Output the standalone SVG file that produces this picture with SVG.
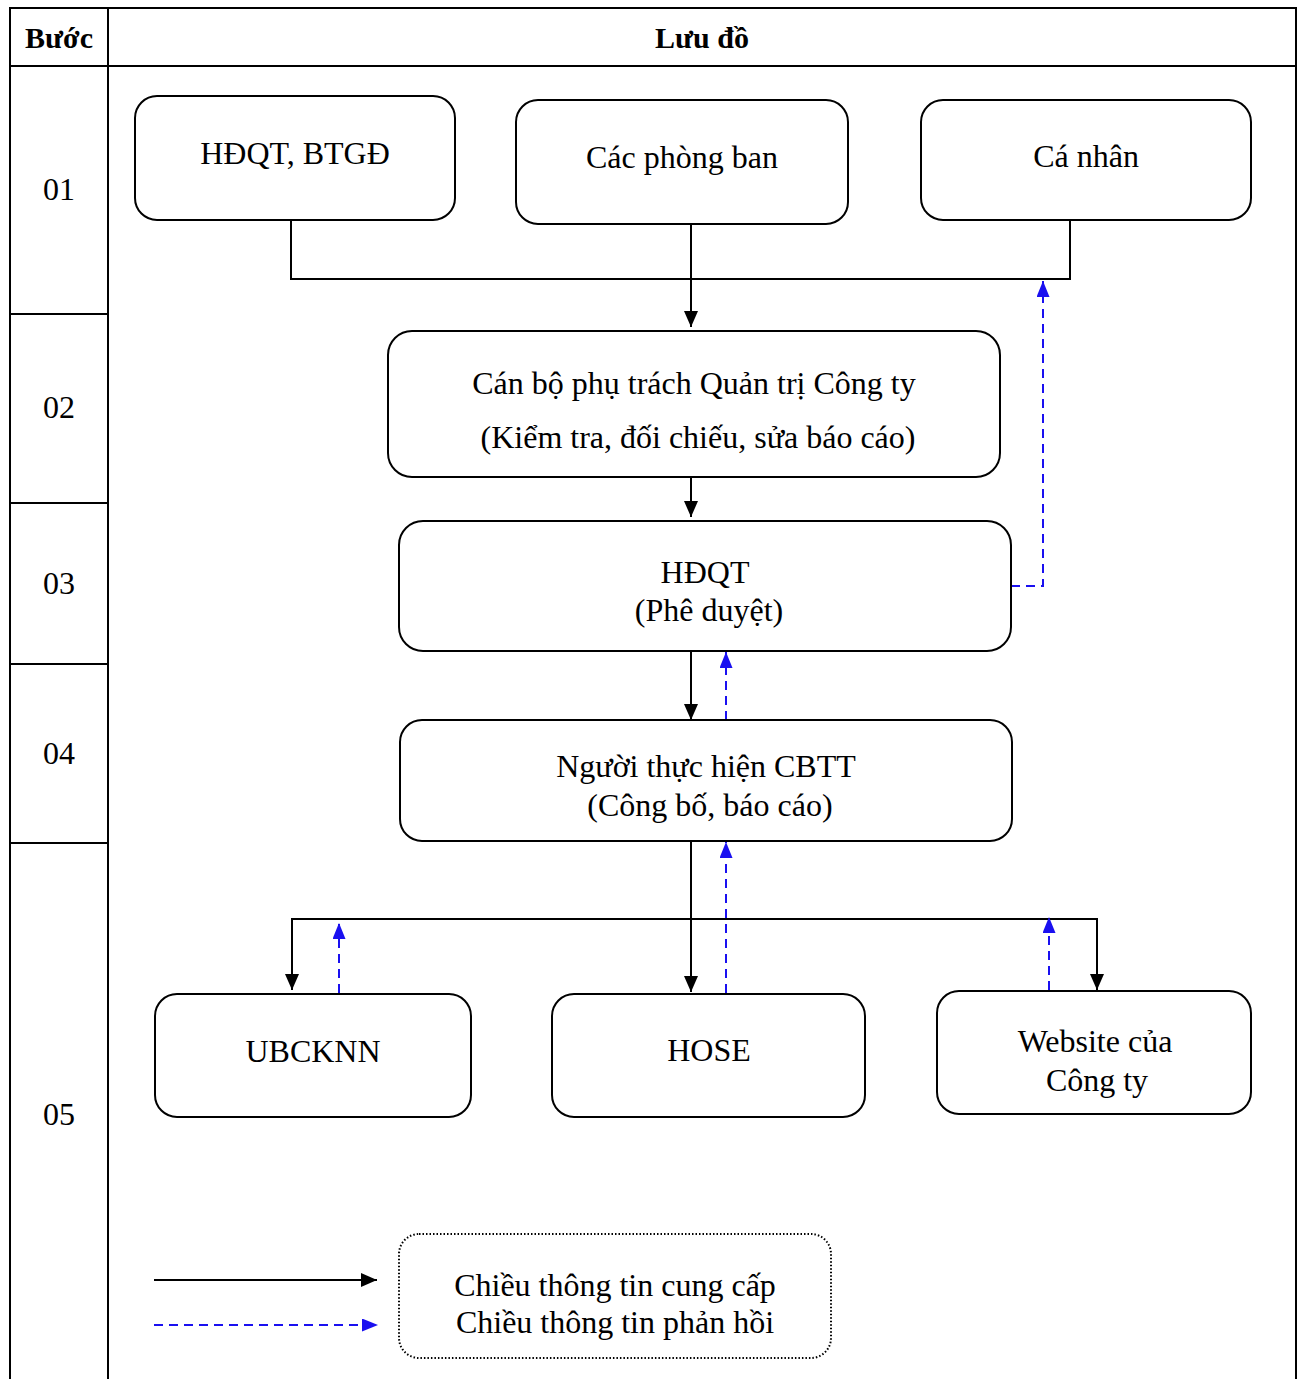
<svg xmlns="http://www.w3.org/2000/svg" width="1303" height="1379" viewBox="0 0 1303 1379">
<style>
  .t{font-family:"Liberation Serif","Times New Roman",serif;font-size:32px;fill:#000;text-anchor:middle}
  .h{font-weight:bold;font-size:30px}
  .box{fill:#fff;stroke:#000;stroke-width:2}
  .grid{stroke:#000;stroke-width:2;fill:none}
  .ln{stroke:#000;stroke-width:2;fill:none}
  .fb{stroke:#1a10f0;stroke-width:2;fill:none;stroke-dasharray:9 6}
</style>
<defs>
  <marker id="ab" viewBox="0 0 16 14" refX="16" refY="7" markerWidth="16" markerHeight="14" markerUnits="userSpaceOnUse" orient="auto">
    <path d="M0,0 L16,7 L0,14 Z" fill="#000"/>
  </marker>
  <marker id="au" viewBox="0 0 16 13" refX="16" refY="6.5" markerWidth="16" markerHeight="13" markerUnits="userSpaceOnUse" orient="auto">
    <path d="M0,0 L16,6.5 L0,13 Z" fill="#1a10f0"/>
  </marker>
</defs>
<rect width="1303" height="1379" fill="#fff"/>
<g id="table">
  <path class="grid" d="M10,1379 V8 H1296 V1379 M108,8 V1379 M10,66 H1296 M10,314 H108 M10,503 H108 M10,664 H108 M10,843 H108"/>
  <text class="t h" x="59" y="48">Bước</text>
  <text class="t h" x="702" y="48">Lưu đồ</text>
  <text class="t" x="59" y="200">01</text>
  <text class="t" x="59" y="418">02</text>
  <text class="t" x="59" y="594">03</text>
  <text class="t" x="59" y="764">04</text>
  <text class="t" x="59" y="1125">05</text>
</g>
<g id="connectors">
  <path class="ln" d="M291,220 V279 H1070 V220"/>
  <path class="ln" d="M691,224 V327" marker-end="url(#ab)"/>
  <path class="ln" d="M691,477 V517" marker-end="url(#ab)"/>
  <path class="fb" d="M1011,586 H1043 V281" marker-end="url(#au)"/>
  <path class="ln" d="M691,651 V720" marker-end="url(#ab)"/>
  <path class="fb" d="M726,720 V652" marker-end="url(#au)"/>
  <path class="ln" d="M691,841 V992" marker-end="url(#ab)"/>
  <path class="fb" d="M726,993 V842" marker-end="url(#au)"/>
  <path class="ln" d="M292,990 V919 H1097 V990" />
  <path class="ln" d="M292,960 V990" marker-end="url(#ab)"/>
  <path class="ln" d="M1097,960 V990" marker-end="url(#ab)"/>
  <path class="fb" d="M339,993 V923" marker-end="url(#au)"/>
  <path class="fb" d="M1049,990 V917" marker-end="url(#au)"/>
</g>
<g id="n-hdqt-btgd">
  <rect class="box" x="135" y="96" width="320" height="124" rx="22"/>
  <text class="t" x="295" y="164">HĐQT, BTGĐ</text>
</g>
<g id="n-phongban">
  <rect class="box" x="516" y="100" width="332" height="124" rx="22"/>
  <text class="t" x="682" y="168">Các phòng ban</text>
</g>
<g id="n-canhan">
  <rect class="box" x="921" y="100" width="330" height="120" rx="22"/>
  <text class="t" x="1086" y="167">Cá nhân</text>
</g>
<g id="n-canbo">
  <rect class="box" x="388" y="331" width="612" height="146" rx="24"/>
  <text class="t" x="694" y="394">Cán bộ phụ trách Quản trị Công ty</text>
  <text class="t" x="698" y="448">(Kiểm tra, đối chiếu, sửa báo cáo)</text>
</g>
<g id="n-hdqt">
  <rect class="box" x="399" y="521" width="612" height="130" rx="24"/>
  <text class="t" x="705" y="583">HĐQT</text>
  <text class="t" x="709" y="621">(Phê duyệt)</text>
</g>
<g id="n-cbtt">
  <rect class="box" x="400" y="720" width="612" height="121" rx="22"/>
  <text class="t" x="706" y="777">Người thực hiện CBTT</text>
  <text class="t" x="710" y="816">(Công bố, báo cáo)</text>
</g>
<g id="n-ubcknn">
  <rect class="box" x="155" y="994" width="316" height="123" rx="22"/>
  <text class="t" x="313" y="1062">UBCKNN</text>
</g>
<g id="n-hose">
  <rect class="box" x="552" y="994" width="313" height="123" rx="22"/>
  <text class="t" x="709" y="1061">HOSE</text>
</g>
<g id="n-website">
  <rect class="box" x="937" y="991" width="314" height="123" rx="22"/>
  <text class="t" x="1095" y="1052">Website của</text>
  <text class="t" x="1097" y="1091">Công ty</text>
</g>
<g id="legend">
  <path class="ln" d="M154,1280 H377" marker-end="url(#ab)"/>
  <path class="fb" d="M154,1325 H378" marker-end="url(#au)"/>
  <rect x="399" y="1234" width="432" height="124" rx="20" fill="#fff" stroke="#000" stroke-width="2" stroke-dasharray="1.5 2"/>
  <text class="t" x="615" y="1296">Chiều thông tin cung cấp</text>
  <text class="t" x="615" y="1333">Chiều thông tin phản hồi</text>
</g>
</svg>
